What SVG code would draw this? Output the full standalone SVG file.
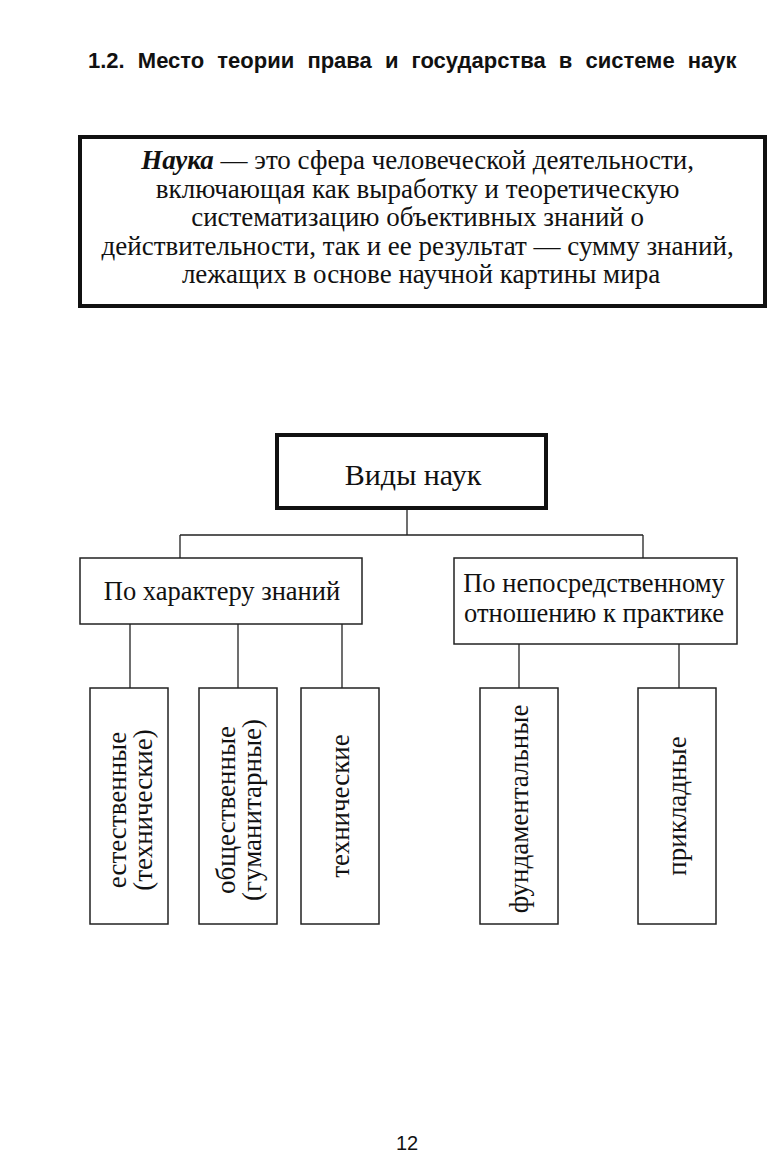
<svg xmlns="http://www.w3.org/2000/svg" width="771" height="1175" viewBox="0 0 771 1175">
<style>
.bg{fill:#fff}
.thick{fill:#fff;stroke:#111;stroke-width:4}
.box{fill:#fff;stroke:#222;stroke-width:1.5}
.ln{fill:none;stroke:#222;stroke-width:1.3}
.t{font-family:"Liberation Serif","Times New Roman",serif;fill:#111;text-anchor:middle}
.v{font-size:27px}
.h{font-family:"Liberation Sans",Arial,sans-serif;fill:#111}
</style>
<rect class="bg" x="0" y="0" width="771" height="1175"/>
<text class="h" x="88" y="68" font-size="22" font-weight="bold" word-spacing="7">1.2. Место теории права и государства в системе наук</text>
<g id="definition">
<rect class="thick" x="80" y="137" width="685" height="169"/>
<text class="t" font-size="27">
<tspan x="421" y="169"><tspan font-weight="bold" font-style="italic">Наука</tspan> — это сфера человеческой деятельности,</tspan>
<tspan x="421" y="198">включающая как выработку и теоретическую</tspan>
<tspan x="421" y="226">систематизацию объективных знаний о</tspan>
<tspan x="421" y="255">действительности, так и ее результат — сумму знаний,</tspan>
<tspan x="421" y="283">лежащих в основе научной картины мира</tspan>
</text>
</g>
<g id="connectors">
<path class="ln" d="M407 510V535M180 535H643M180 535V558M643 535V558"/>
<path class="ln" d="M130 624V688M238 624V688M342 624V688M519 644V688M679 644V688"/>
</g>
<g id="types">
<rect class="thick" x="277" y="435" width="269" height="73"/>
<text class="t" x="413" y="485" font-size="30">Виды наук</text>
</g>
<g id="knowledge">
<rect class="box" x="80" y="558" width="282" height="66"/>
<text class="t" x="222" y="600" font-size="26.5">По характеру знаний</text>
</g>
<g id="practice">
<rect class="box" x="454" y="558" width="283" height="86"/>
<text class="t" font-size="26.5"><tspan x="594" y="592">По непосредственному</tspan><tspan x="594" y="622">отношению к практике</tspan></text>
</g>
<g id="natural">
<rect class="box" x="90" y="688" width="78" height="236"/>
<text class="t v" transform="translate(129 810) rotate(-90)"><tspan x="0" y="-3">естественные</tspan><tspan x="0" y="23">(технические)</tspan></text>
</g>
<g id="social">
<rect class="box" x="199" y="688" width="78" height="236"/>
<text class="t v" transform="translate(238 810) rotate(-90)"><tspan x="0" y="-3">общественные</tspan><tspan x="0" y="23">(гуманитарные)</tspan></text>
</g>
<g id="technical">
<rect class="box" x="301" y="688" width="78" height="236"/>
<text class="t v" transform="translate(340 806) rotate(-90)" x="0" y="9">технические</text>
</g>
<g id="fundamental">
<rect class="box" x="480" y="688" width="78" height="236"/>
<text class="t v" transform="translate(519 809) rotate(-90)" x="0" y="9">фундаментальные</text>
</g>
<g id="applied">
<rect class="box" x="638" y="688" width="78" height="236"/>
<text class="t v" transform="translate(677 806) rotate(-90)" x="0" y="9">прикладные</text>
</g>
<text class="h" x="407" y="1150" font-size="20" text-anchor="middle">12</text>
</svg>
